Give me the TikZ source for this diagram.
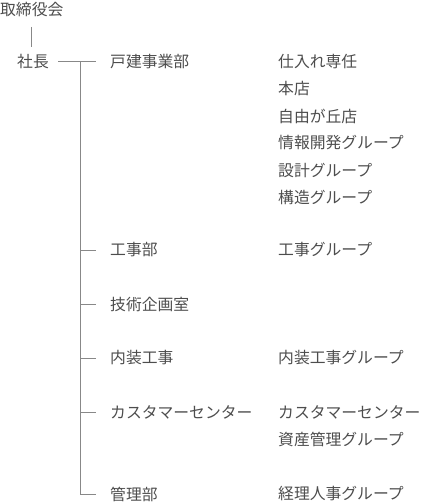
\documentclass[tikz,border=0pt]{standalone}
\usepackage{fontspec}
\setmainfont{Noto Sans CJK JP}
\definecolor{txt}{HTML}{4D4D4D}
\definecolor{ln}{HTML}{888888}
\begin{document}
\begin{tikzpicture}[x=1pt,y=-1pt,
  lbl/.style={anchor=west,inner sep=0pt,text=txt,font=\fontsize{15.8}{19}\selectfont},
  conn/.style={draw=ln,line width=1pt}]
\useasboundingbox (0,0) rectangle (421,502);
\node[lbl] (board) at (0,10) {取締役会};
\node[lbl] (pres) at (17,62) {社長};
\node[lbl] (d1) at (110,62) {戸建事業部};
\node[lbl] (d2) at (110,250) {工事部};
\node[lbl] (d3) at (110,304) {技術企画室};
\node[lbl] (d4) at (110,358) {内装工事};
\node[lbl] (d5) at (110,412) {カスタマーセンター};
\node[lbl] (d6) at (110,494) {管理部};
\node[lbl] (g1) at (278,62) {仕入れ専任};
\node[lbl] (g2) at (278,89) {本店};
\node[lbl] (g3) at (278,116) {自由が丘店};
\node[lbl] (g4) at (278,143) {情報開発グループ};
\node[lbl] (g5) at (278,170) {設計グループ};
\node[lbl] (g6) at (278,197) {構造グループ};
\node[lbl] (g7) at (278,250) {工事グループ};
\node[lbl] (g8) at (278,358) {内装工事グループ};
\node[lbl] (g9) at (278,412) {カスタマーセンター};
\node[lbl] (g10) at (278,439) {資産管理グループ};
\node[lbl] (g11) at (278,494) {経理人事グループ};
\coordinate (top) at (80,62);
\draw[conn] (31,27) -- (31,47);
\draw[conn] (58,62) -- ([xshift=-14pt]d1.west);
\draw[conn] (top) -- (80,494) -- ([xshift=-14pt]d6.west);
\foreach \n in {d2,d3,d4,d5}
  \draw[conn] (80,0 |- \n.west) -- ([xshift=-14pt]\n.west);
\end{tikzpicture}
\end{document}
